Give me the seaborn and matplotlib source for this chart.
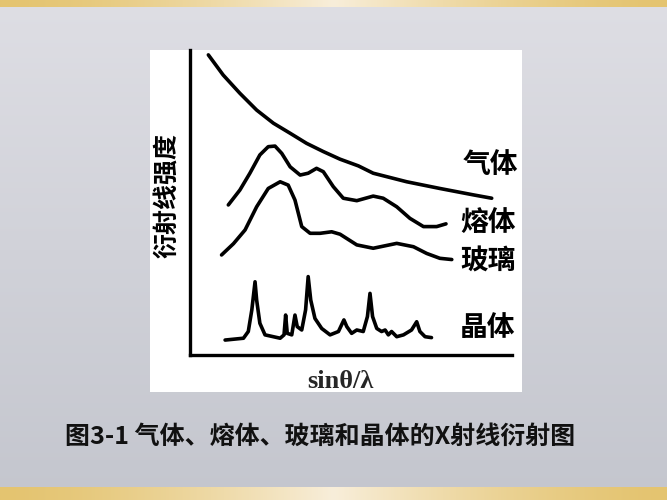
import numpy as np
import pandas as pd
import matplotlib.pyplot as plt
import seaborn as sns
from matplotlib.patches import Rectangle

sns.set_theme(style="white")
plt.rcParams["font.family"] = ["Noto Sans CJK SC", "DejaVu Sans"]

# curves (axis box is 0..10 in both directions)
gas_x = [0.57, 1.03, 1.55, 2.07, 2.59, 3.11, 3.62, 4.14, 4.66, 5.23,
         5.69, 6.73, 7.76, 8.80, 9.37]
gas_y = [9.84, 9.18, 8.58, 8.03, 7.60, 7.27, 6.94, 6.67, 6.42, 6.20,
         5.96, 5.68, 5.46, 5.25, 5.14]

melt_x = [1.19, 1.55, 1.86, 2.17, 2.43, 2.64, 2.85, 3.11, 3.42, 3.67, 3.93,
          4.14, 4.45, 4.76, 5.18, 5.69, 6.00, 6.42, 6.83, 7.25, 7.66, 7.95]
melt_y = [4.92, 5.41, 5.96, 6.56, 6.83, 6.85, 6.61, 6.17, 5.90, 5.96, 6.12,
          6.01, 5.52, 5.14, 5.06, 5.21, 5.14, 4.86, 4.48, 4.21, 4.21, 4.30]

glass_x = [0.98, 1.35, 1.71, 2.07, 2.43, 2.80, 3.05, 3.26, 3.47, 3.73,
           4.04, 4.40, 4.66, 5.18, 5.69, 6.42, 6.94, 7.35, 7.76, 8.13]
glass_y = [3.28, 3.65, 4.10, 4.86, 5.46, 5.68, 5.57, 5.08, 4.21, 3.99,
           3.99, 4.04, 3.96, 3.61, 3.50, 3.66, 3.55, 3.33, 3.17, 3.13]

crystal_x = [1.09, 1.66, 1.81, 1.92, 2.02, 2.07, 2.17, 2.33, 2.80, 2.92,
             2.97, 3.02, 3.16, 3.26, 3.33, 3.47, 3.59, 3.67, 3.75, 3.88,
             4.09, 4.35, 4.61, 4.78, 4.87, 5.02, 5.18, 5.38, 5.51, 5.59,
             5.67, 5.80, 5.95, 6.06, 6.16, 6.26, 6.42, 6.63, 6.88, 7.04,
             7.14, 7.30, 7.50]
crystal_y = [0.49, 0.55, 0.77, 1.48, 2.40, 1.80, 1.04, 0.66, 0.55, 0.66,
             1.31, 0.71, 0.66, 1.31, 0.93, 0.82, 1.48, 2.57, 1.80, 1.20,
             0.87, 0.66, 0.77, 1.15, 0.93, 0.71, 0.82, 0.77, 1.26, 2.02,
             1.26, 0.87, 0.77, 0.82, 0.66, 0.77, 0.60, 0.66, 0.82, 1.09,
             0.77, 0.60, 0.57]

curve_names = ["气体", "熔体", "玻璃", "晶体"]
label_x = [9.32, 9.25, 9.25, 9.25]
label_y = [6.23, 4.33, 3.08, 0.89]

df = pd.concat([
    pd.DataFrame({"x": gas_x, "y": gas_y, "curve": "气体"}),
    pd.DataFrame({"x": melt_x, "y": melt_y, "curve": "熔体"}),
    pd.DataFrame({"x": glass_x, "y": glass_y, "curve": "玻璃"}),
    pd.DataFrame({"x": crystal_x, "y": crystal_y, "curve": "晶体"}),
])

W, H = 667, 500
fig = plt.figure(figsize=(6.67, 5), dpi=100)

# slide background
bg = fig.add_axes([0, 0, 1, 1])
bg.set_xlim(0, W)
bg.set_ylim(H, 0)
bg.axis("off")
g = np.linspace(0, 1, 200)[:, None, None]
top_c = np.array([222, 222, 228]) / 255
bot_c = np.array([196, 198, 206]) / 255
grad = top_c * (1 - g) + bot_c * g
grad = np.repeat(grad, 2, axis=1)
bg.imshow(grad, extent=[0, W, H, 0], aspect="auto", zorder=0)

xs = np.linspace(0, 1, 300)
gold_edge = np.array([228, 196, 112]) / 255
gold_mid = np.array([248, 238, 218]) / 255
t = (1 - np.abs(xs - 0.5) * 2)[:, None] ** 1.5
band = (gold_edge * (1 - t) + gold_mid * t)[None, :, :]
bg.imshow(band, extent=[0, W, 7, 0], aspect="auto", zorder=1)
bg.imshow(band, extent=[0, W, H, 487], aspect="auto", zorder=1)
bg.add_patch(Rectangle((150, 50), 372, 342, facecolor="white", edgecolor="none", zorder=2))

# chart
ax = fig.add_axes([190 / W, 1 - 355 / H, 322 / W, 305 / H])
ax.patch.set_alpha(0)
sns.lineplot(data=df, x="x", y="y", hue="curve",
             palette={n: "black" for n in curve_names},
             estimator=None, sort=False, legend=False, linewidth=2.6, ax=ax)
for ln in ax.lines:
    ln.set_solid_joinstyle("round")
    ln.set_solid_capstyle("round")
ax.set_xlim(0, 10)
ax.set_ylim(0, 10)
ax.set_xticks([])
ax.set_yticks([])
ax.set_xlabel("")
ax.set_ylabel("")
for s in ["top", "right"]:
    ax.spines[s].set_visible(False)
for s in ["left", "bottom"]:
    ax.spines[s].set_color("black")
    ax.spines[s].set_linewidth(2.4)

for name, lx, ly in zip(curve_names, label_x, label_y):
    ax.text(lx, ly, name, ha="center", va="center", fontsize=20,
            fontweight="bold", color="black")

fig.text(167 / W, 1 - 195 / H, "衍射线强度", rotation=90, ha="center", va="center",
         fontsize=18, fontweight="bold", color="black")
fig.text(340 / W, 1 - 381 / H, "sinθ/λ", ha="center", va="center",
         fontsize=19, fontweight="bold", family=["Liberation Serif", "DejaVu Serif"])
fig.text(320 / W, 1 - 437 / H, "图3-1 气体、熔体、玻璃和晶体的X射线衍射图",
         ha="center", va="center", fontsize=18, fontweight="bold", color="#111111")

plt.savefig("out.png", dpi=100)
plt.close()
